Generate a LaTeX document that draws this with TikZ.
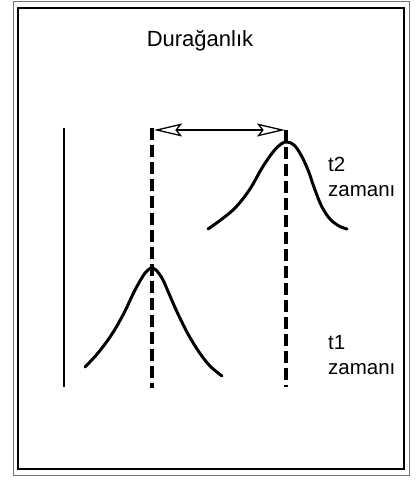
\documentclass[tikz,border=0pt]{standalone}
\usepackage{fontspec}
\setmainfont{Liberation Sans}
\usetikzlibrary{arrows.meta}
\begin{document}
\begin{tikzpicture}[x=1pt,y=-1pt,
  outerframe/.style={draw=black!55,line width=1pt},
  innerframe/.style={draw=black,line width=2pt},
  curveline/.style={line width=3pt,line cap=round,line join=round},
  dashline/.style={line width=3.2pt,dash pattern=on 12pt off 5pt},
  axisline/.style={line width=1.8pt},
  lbl/.style={align=left,anchor=west,font=\fontsize{20.5}{25}\selectfont,inner sep=0pt},
  shiftarrow/.style={line width=1.3pt,{Stealth[open,length=28pt,width=13pt,inset=5pt]}-{Stealth[open,length=28pt,width=13pt,inset=5pt]}}]
\useasboundingbox (0,0) rectangle (416,481);
\draw[outerframe] (13,2) rectangle (409,475);
\draw[innerframe] (18,8) rectangle (404,469);
\node[font=\fontsize{22}{25}\selectfont,anchor=base,inner sep=0pt] (title) at (200,47) {Durağanlık};
% left vertical line
\coordinate (at) at (64,128);
\coordinate (ab) at (64,387);
\draw[axisline] (at) -- (ab);
% dashed lines
\coordinate (d1t) at (152,128);
\coordinate (d1b) at (152,388);
\coordinate (d2t) at (286,130);
\coordinate (d2b) at (286,387);
\draw[dashline] (d1t) -- (d1b);
\draw[dashline] (d2t) -- (d2b);
% arrow
\coordinate (a1) at (154,130);
\coordinate (a2) at (285,130);
\draw[shiftarrow] (a1) -- (a2);
% curve t2
\draw[curveline] plot[smooth,tension=0.6] coordinates {(208,229) (222,219) (236,207) (250,189) (262,168) (273,152) (281,144) (287,142) (294,145) (301,155) (308,170) (315,190) (322,207) (330,219) (339,226) (347,229)};
% curve t1
\draw[curveline] plot[smooth,tension=0.6] coordinates {(85,367) (98,353) (112,334) (124,313) (134,292) (143,276) (148,270) (152,268) (157,271) (163,280) (170,296) (178,314) (188,334) (199,352) (210,366) (222,376)};
% labels
\node[lbl] (t2) at (328,177) {t2\\zamanı};
\node[lbl] (t1) at (328,355) {t1\\zamanı};
\end{tikzpicture}
\end{document}
